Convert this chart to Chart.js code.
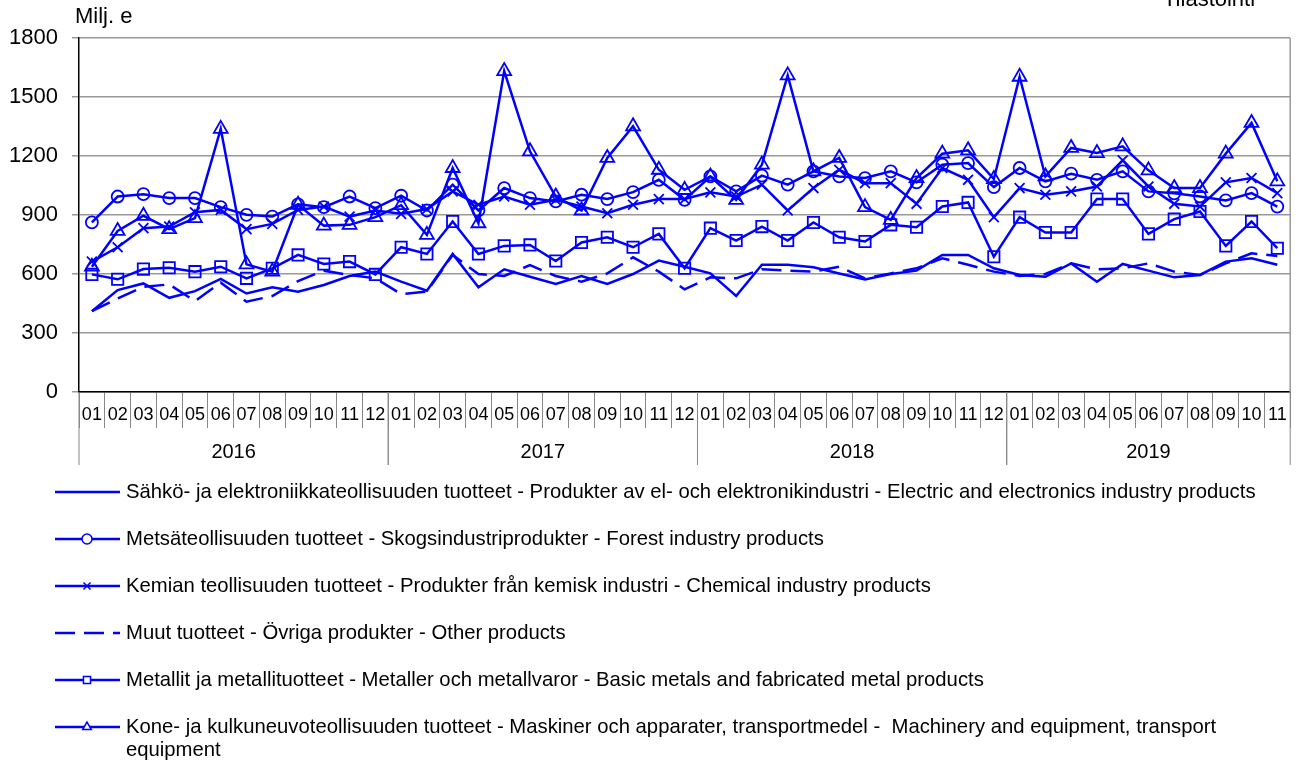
<!DOCTYPE html>
<html>
<head>
<meta charset="utf-8">
<script src="https://cdn.jsdelivr.net/npm/chart.js@4.4.1/dist/chart.umd.min.js"></script>
<style>
  html, body { margin: 0; padding: 0; background: #fff; }
  #wrap { width: 1300px; height: 763px; position: relative; }
</style>
</head>
<body>
<div id="wrap"><canvas id="myChart" width="1300" height="763"></canvas></div>
<script>
// ------------- data ----------------
const months = ["01","02","03","04","05","06","07","08","09","10","11","12",
  "01","02","03","04","05","06","07","08","09","10","11","12",
  "01","02","03","04","05","06","07","08","09","10","11","12",
  "01","02","03","04","05","06","07","08","09","10","11"];
const years = ["2016", "2017", "2018", "2019"];
const yTicks = [0, 300, 600, 900, 1200, 1500, 1800];

const electronics = [411,518,552,479,513,575,501,532,510,544,590,612,
  561,515,702,532,624,586,549,590,549,600,668,637,
  603,488,647,647,634,603,572,600,617,697,697,629,
  595,586,654,561,651,617,583,595,663,680,647];
const forest = [862,994,1006,986,986,940,901,892,954,940,994,935,
  998,923,1054,923,1037,986,969,1003,981,1016,1079,977,
  1096,1020,1100,1054,1122,1096,1088,1122,1066,1156,1164,1042,
  1139,1071,1110,1079,1122,1020,1010,994,974,1011,943];
const chemical = [663,736,833,841,914,926,828,855,926,943,892,923,
  906,930,1020,952,994,952,977,943,909,952,981,981,
  1015,994,1054,923,1037,1130,1062,1062,957,1139,1079,889,
  1037,1003,1020,1045,1178,1045,957,943,1066,1088,1011];
const other = [411,476,535,547,462,556,459,488,564,617,595,578,
  498,510,697,600,590,645,590,561,603,685,612,522,
  583,578,624,617,612,637,578,603,629,680,647,612,
  590,600,654,624,629,654,612,595,654,705,692];
const metals = [598,573,625,632,612,637,578,629,697,651,663,598,
  736,702,867,702,743,748,666,760,787,736,804,629,
  833,770,841,770,862,787,765,850,838,943,964,688,
  889,811,811,981,981,804,879,918,743,867,731];
const machinery = [637,819,896,828,884,1338,649,612,952,846,850,889,
  950,799,1139,858,1632,1224,994,923,1190,1351,1130,1028,
  1096,977,1156,1610,1122,1190,940,875,1088,1212,1229,1083,
  1603,1096,1241,1215,1249,1127,1037,1037,1212,1368,1071];

const seriesNames = [
  "Sähkö- ja elektroniikkateollisuuden tuotteet - Produkter av el- och elektronikindustri - Electric and electronics industry products",
  "Metsäteollisuuden tuotteet - Skogsindustriprodukter - Forest industry products",
  "Kemian teollisuuden tuotteet - Produkter från kemisk industri - Chemical industry products",
  "Muut tuotteet - Övriga produkter - Other products",
  "Metallit ja metallituotteet - Metaller och metallvaror - Basic metals and fabricated metal products",
  "Kone- ja kulkuneuvoteollisuuden tuotteet - Maskiner och apparater, transportmedel -  Machinery and equipment, transport equipment"
];

const FONT = "'Liberation Sans', Arial, sans-serif";
const BLUE = "#0000ff";

function line(label, data, style, radius, dash) {
  return {
    label: label,
    data: data,
    borderColor: BLUE,
    backgroundColor: BLUE,
    borderWidth: 2.5,
    borderDash: dash || [],
    pointStyle: style || false,
    pointRadius: style ? radius : 0,
    pointBorderWidth: 1.8,
    pointBorderColor: BLUE,
    pointBackgroundColor: "rgba(0,0,0,0)",
    tension: 0,
  };
}

// legend + year row drawn by hand
const decorations = {
  id: "decorations",
  afterDraw(chart) {
    const ctx = chart.ctx;
    const area = chart.chartArea;
    const x = chart.scales.x;
    const half = (x.getPixelForTick(1) - x.getPixelForTick(0)) / 2;

    ctx.save();
    // right frame of the plot
    ctx.strokeStyle = "#999";
    ctx.lineWidth = 1.5;
    ctx.beginPath();
    ctx.moveTo(area.right, area.top);
    ctx.lineTo(area.right, area.bottom);
    ctx.stroke();

    // year separators and labels
    ctx.strokeStyle = "#888";
    ctx.lineWidth = 1;
    ctx.fillStyle = "#000";
    ctx.font = "20px " + FONT;
    ctx.textAlign = "center";
    ctx.textBaseline = "middle";
    years.forEach((yr, k) => {
      const first = k * 12;
      const last = Math.min(first + 11, months.length - 1);
      const x0 = x.getPixelForTick(first) - half;
      const x1 = x.getPixelForTick(last) + half;
      ctx.beginPath();
      ctx.moveTo(x0, area.bottom);
      ctx.lineTo(x0, 465);
      ctx.moveTo(x1, area.bottom);
      ctx.lineTo(x1, 465);
      ctx.stroke();
      ctx.fillText(yr, (x0 + x1) / 2, 452);
    });

    // unit and source text
    ctx.textAlign = "left";
    ctx.font = "22px " + FONT;
    ctx.fillText("Milj. e", 75, 17);
    ctx.fillText("Tilastointi", 1163, 0);

    // legend
    const rows = [492, 539, 586, 633, 680, 727];
    ctx.font = "20.3px " + FONT;
    chart.data.datasets.forEach((ds, i) => {
      const y = rows[i];
      ctx.strokeStyle = BLUE;
      ctx.lineWidth = 2.5;
      ctx.setLineDash(ds.borderDash || []);
      ctx.beginPath();
      ctx.moveTo(55, y);
      ctx.lineTo(120, y);
      ctx.stroke();
      ctx.setLineDash([]);
      if (ds.pointStyle) {
        ctx.fillStyle = "#fff";
        ctx.strokeStyle = BLUE;
        ctx.lineWidth = 1.5;
        Chart.helpers.drawPoint(ctx, {
          pointStyle: ds.pointStyle, radius: 5, borderWidth: 1.5, rotation: 0
        }, 87, y);
      }
      // word wrap text
      ctx.fillStyle = "#000";
      const words = ds.label.split(" ");
      let lineText = "";
      let ty = y;
      words.forEach((w) => {
        const test = lineText ? lineText + " " + w : w;
        if (ctx.measureText(test).width > 1145 && lineText) {
          ctx.fillText(lineText, 126, ty);
          lineText = w;
          ty += 23;
        } else {
          lineText = test;
        }
      });
      ctx.fillText(lineText, 126, ty);
    });
    ctx.restore();
  },
};

document.addEventListener("DOMContentLoaded", () => {
  const ctx = document.getElementById("myChart");
  new Chart(ctx, {
    type: "line",
    data: {
      labels: months,
      datasets: [
        line(seriesNames[0], electronics),
        line(seriesNames[1], forest, "circle", 6),
        line(seriesNames[2], chemical, "crossRot", 7),
        line(seriesNames[3], other, null, 0, [20, 9]),
        line(seriesNames[4], metals, "rect", 8),
        line(seriesNames[5], machinery, "triangle", 8),
      ],
    },
    options: {
      responsive: false,
      animation: false,
      layout: { padding: { left: 0, right: 8, top: 38, bottom: 0 } },
      plugins: { legend: { display: false }, tooltip: { enabled: false } },
      scales: {
        x: {
          offset: true,
          grid: {
            offset: true,
            drawOnChartArea: false,
            tickLength: 36,
            color: "#888",
            lineWidth: 1,
          },
          border: { color: "#000", width: 1.5 },
          ticks: {
            autoSkip: false,
            maxRotation: 0,
            padding: -24,
            color: "#000",
            font: { family: FONT, size: 18 },
          },
          afterFit(scale) { scale.height = 371; },
        },
        y: {
          min: 0,
          max: 1800,
          afterBuildTicks(scale) { scale.ticks = yTicks.map((v) => ({ value: v })); },
          grid: { color: "#999", lineWidth: 1.5, tickLength: 7 },
          border: { color: "#000", width: 1.5 },
          ticks: {
            padding: 14,
            color: "#000",
            font: { family: FONT, size: 22 },
            callback: (v) => String(v),
          },
          afterFit(scale) { scale.width = 79; },
        },
      },
    },
    plugins: [decorations],
  });
});
</script>
</body>
</html>
